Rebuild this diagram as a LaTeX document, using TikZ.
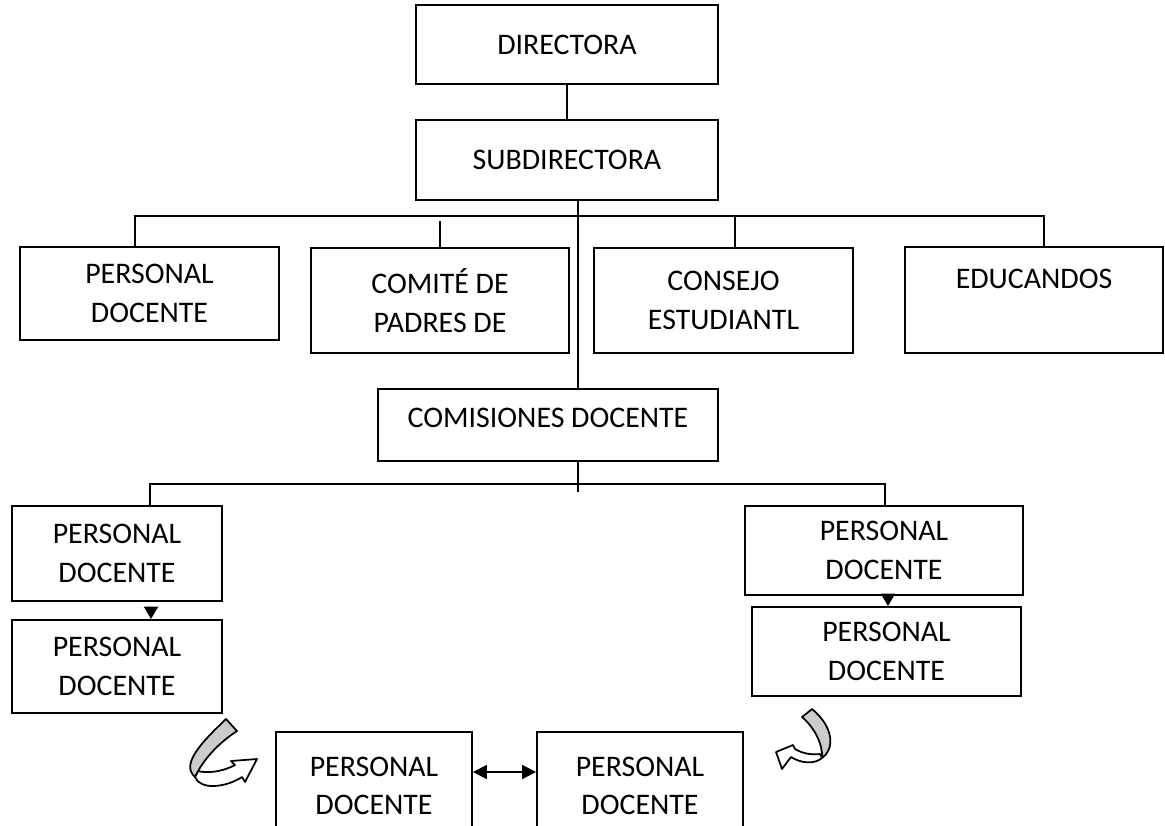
\documentclass[tikz,border=0pt]{standalone}
\usepackage{fontspec}
\setmainfont{Carlito}
\usetikzlibrary{arrows.meta,calc}
\begin{document}
\begin{tikzpicture}[x=0.02cm,y=-0.02cm,
  box/.style={draw,line width=1.1pt,rectangle,inner sep=0pt,align=center,
    font=\fontsize{17}{22}\selectfont},
  txt/.style={inner sep=0pt,align=center,font=\fontsize{17}{22}\selectfont},
  conn/.style={line width=1.1pt},
  tri/.style={line width=1.1pt,-{Triangle[length=0.25cm,width=0.28cm]}},
  dbl/.style={line width=1.1pt,{Triangle[length=0.28cm,width=0.28cm]}-{Triangle[length=0.28cm,width=0.28cm]}},
  band/.style={draw,line width=1pt,line join=round}]
\useasboundingbox (0,0) rectangle (1165,825);
\begin{scope}
\clip (0,0) rectangle (1165,825);
% boxes
\node[box,minimum width=6.04cm,minimum height=1.58cm] (dir) at (567,44.5) {DIRECTORA};
\node[box,minimum width=6.04cm,minimum height=1.6cm] (sub) at (567,160) {SUBDIRECTORA};
\node[box,minimum width=5.18cm,minimum height=1.86cm] (pd) at (149.5,293.5) {PERSONAL\\DOCENTE};
\node[box,minimum width=5.16cm,minimum height=2.1cm] (com) at (440,300.5) {COMITÉ DE\\PADRES DE};
\node[box,minimum width=5.18cm,minimum height=2.1cm] (con) at (723.5,300.5) {CONSEJO\\ESTUDIANTL};
\node[box,minimum width=5.16cm,minimum height=2.12cm] (edu) at (1034,300) {};
\node[txt] (edut) at (1034,279) {EDUCANDOS};
\node[box,minimum width=6.8cm,minimum height=1.44cm] (comis) at (548,425) {};
\node[txt] (comist) at (548,418) {COMISIONES DOCENTE};
\node[box,minimum width=4.2cm,minimum height=1.9cm] (l1) at (117,553.5) {PERSONAL\\DOCENTE};
\node[box,minimum width=4.2cm,minimum height=1.86cm] (l2) at (117,666.5) {PERSONAL\\DOCENTE};
\node[box,minimum width=5.56cm,minimum height=1.78cm] (r1) at (884,550.5) {PERSONAL\\DOCENTE};
\node[box,minimum width=5.38cm,minimum height=1.78cm] (r2) at (886.5,651.5) {PERSONAL\\DOCENTE};
\node[box,minimum width=3.92cm,minimum height=2.56cm] (b1) at (374,796) {};
\node[box,minimum width=4.12cm,minimum height=2.56cm] (b2) at (640,796) {};
\node[txt] (b1t) at (374,786) {PERSONAL\\DOCENTE};
\node[txt] (b2t) at (640,786) {PERSONAL\\DOCENTE};
% helper coordinates
\coordinate (spine) at (578,216);
\coordinate (bl) at (135,216);
\coordinate (br) at (1044,216);
\coordinate (bc) at (440,221);
\coordinate (bcon) at (735,216);
\coordinate (bus2l) at (150,484);
\coordinate (bus2r) at (885,484);
\coordinate (spine2) at (578,492);
\coordinate (la) at (151,0);
\coordinate (ra) at (888,0);
\coordinate (ar) at (0,772);
% connectors
\draw[conn] (dir.south) -- (sub.north);
\draw[conn] (spine |- sub.south) -- (spine |- comis.north);
\draw[conn] (bl |- pd.north) -- (bl) -- (br) -- (br |- edu.north);
\draw[conn] (bc) -- (com.north);
\draw[conn] (bcon) -- (bcon |- con.north);
\draw[conn] (spine |- comis.south) -- (spine2);
\draw[conn] (bus2l |- l1.north) -- (bus2l) -- (bus2r) -- (bus2r |- r1.north);
\draw[tri,shorten <=0.12cm] (la |- l1.south) -- (la |- l2.north);
\draw[tri,shorten <=0.0cm] (ra |- r1.south) -- (ra |- r2.north);
\draw[dbl] (b1.east |- ar) -- (b2.west |- ar);
% left curved arrow
\draw[band,fill=white] (195,777) .. controls (200,790) and (225,788) .. (242,777)
  -- (245,782) -- (257,759) -- (231,761) -- (235,765)
  .. controls (220,773) and (205,773) .. (198,771) -- cycle;
\draw[band,fill=black!20] (226,719) .. controls (203,741) and (180,764) .. (195,777)
  .. controls (201,764) and (214,746) .. (237,731) -- cycle;
% right curved arrow
\draw[band,fill=white] (822,758) .. controls (815,764) and (802,764) .. (791,757)
  -- (782,769) -- (776,752) -- (793,745) -- (795,749)
  .. controls (803,754) and (813,755) .. (820,754) -- cycle;
\draw[band,fill=black!20] (802,717) .. controls (815,728) and (823,745) .. (822,758)
  .. controls (834,750) and (835,728) .. (812,709) -- cycle;
\end{scope}
\end{tikzpicture}
\end{document}
